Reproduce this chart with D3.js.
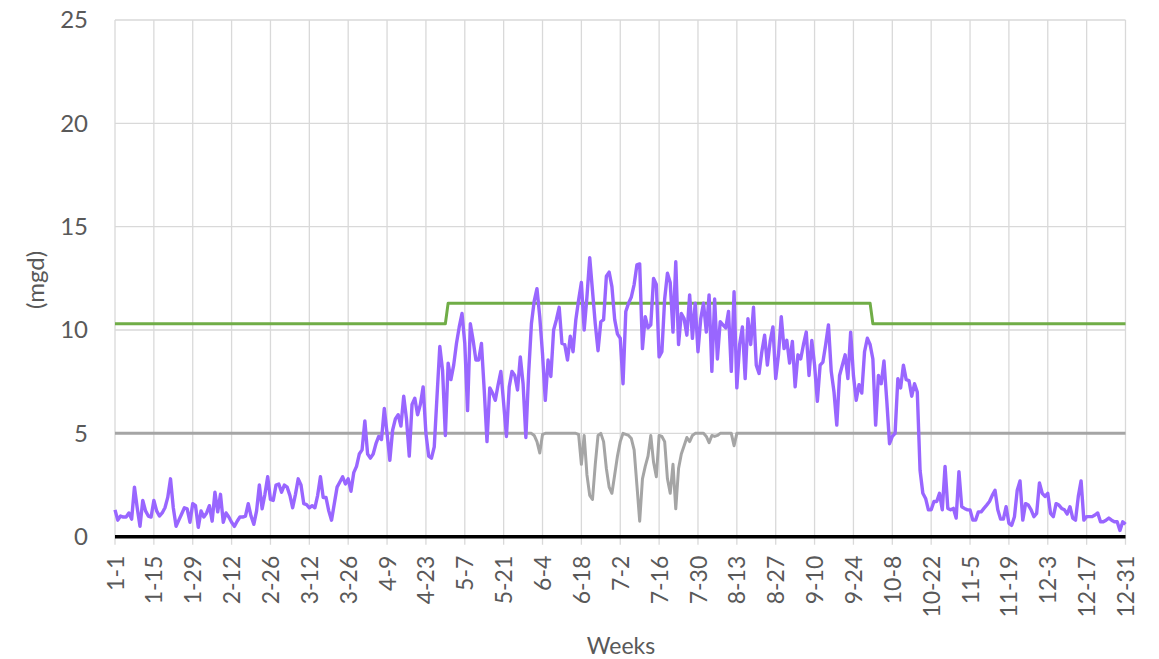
<!DOCTYPE html>
<html lang="en">
<head>
  <meta charset="UTF-8">
  <title>Daily flow (mgd)</title>
  <script src="https://cdn.jsdelivr.net/npm/d3@7"></script>
  <style>
    html, body {
      margin: 0;
      padding: 0;
      background: #fff;
    }
    svg text {
      font-family: Lato, "Open Sans", sans-serif;
      fill: #595959;
    }
  </style>
</head>
<body>
  <svg id="chart" width="1159" height="659"></svg>
  <script>
    // tick labels, one every 14 days starting Jan 1
    const tickLabels = ['1-1', '1-15', '1-29', '2-12', '2-26', '3-12', '3-26', '4-9', '4-23',
      '5-7', '5-21', '6-4', '6-18', '7-2', '7-16', '7-30', '8-13', '8-27', '9-10', '9-24',
      '10-8', '10-22', '11-5', '11-19', '12-3', '12-17', '12-31'];

    // daily flow, day 0 = Jan 1 ... day 364 = Dec 31
    const dailyFlow = [
      1.3, 0.8, 1.0, 0.95, 0.95, 1.15, 0.85, 2.4, 1.4, 0.5,
      1.75, 1.25, 1.0, 0.95, 1.75, 1.25, 1.0, 1.15, 1.4, 1.9,
      2.8, 1.4, 0.5, 0.8, 1.1, 1.4, 1.35, 0.7, 1.6, 1.5,
      0.45, 1.25, 0.95, 1.15, 1.5, 0.75, 2.15, 1.2, 2.05, 0.7,
      1.15, 0.95, 0.7, 0.5, 0.75, 0.95, 0.95, 1.0, 1.6, 1.0,
      0.6, 1.25, 2.5, 1.35, 2.05, 2.9, 1.8, 1.75, 2.5, 2.55,
      2.15, 2.5, 2.4, 2.0, 1.4, 2.05, 2.8, 2.5, 1.6, 1.55,
      1.4, 1.5, 1.4, 2.0, 2.9, 1.9, 1.9, 1.25, 0.8, 1.6,
      2.4, 2.65, 2.9, 2.55, 2.8, 2.2, 3.1, 3.4, 4.0, 4.2,
      5.6, 4.0, 3.8, 4.0, 4.5, 4.85, 4.7, 6.2, 5.0, 3.7,
      5.15, 5.7, 5.9, 5.35, 6.8, 5.7, 3.9, 6.4, 6.7, 5.9,
      6.4, 7.25, 5.0, 3.9, 3.8, 4.35, 6.8, 9.2, 8.05, 4.9,
      8.4, 7.6, 8.3, 9.35, 10.15, 10.8, 9.35, 6.1, 10.3, 9.5,
      8.55, 8.55, 9.35, 7.1, 4.6, 7.2, 6.95, 6.6, 7.35, 8.0,
      6.45, 4.85, 7.25, 8.0, 7.8, 7.1, 8.7, 7.4, 4.8, 7.9,
      10.3, 11.4, 12.0, 10.65, 8.85, 6.6, 8.55, 7.75, 10.0, 10.5,
      11.1, 9.35, 9.3, 8.55, 9.7, 8.95, 10.5, 11.45, 12.3, 10.0,
      11.6, 13.5, 11.9, 10.3, 9.0, 10.4, 10.5, 12.6, 12.8, 12.1,
      10.5, 9.8, 9.6, 7.4, 10.9, 11.3, 11.6, 12.2, 13.15, 13.2,
      9.1, 10.65, 10.1, 10.25, 12.5, 12.2, 8.7, 8.95, 11.5, 12.75,
      12.3, 9.9, 13.3, 9.3, 10.8, 10.55, 9.75, 11.7, 9.6, 11.3,
      8.95, 10.55, 11.3, 9.9, 11.7, 8.0, 11.5, 8.6, 10.4, 10.25,
      10.1, 10.9, 8.0, 11.85, 7.2, 9.3, 10.15, 7.65, 10.55, 9.3,
      11.1, 8.3, 7.9, 8.95, 9.75, 8.3, 9.45, 10.15, 7.65, 8.8,
      10.65, 9.1, 9.5, 8.4, 9.45, 7.25, 8.8, 8.6, 9.3, 9.9,
      7.8, 9.5, 8.3, 6.55, 8.3, 8.45, 9.3, 10.25, 8.0, 7.0,
      5.4, 7.8, 8.3, 8.8, 7.65, 9.9, 7.8, 6.6, 7.35, 6.95,
      8.95, 9.6, 9.3, 8.6, 5.4, 7.8, 7.4, 8.5, 6.6, 4.5,
      4.85, 5.0, 7.65, 7.2, 8.3, 7.6, 7.55, 6.8, 7.4, 7.0,
      3.2, 2.1, 1.85, 1.3, 1.3, 1.7, 1.7, 2.1, 1.3, 3.4,
      1.37, 1.3, 1.37, 0.9, 3.15, 1.45, 1.37, 1.3, 1.3, 0.8,
      0.8, 1.2, 1.2, 1.37, 1.53, 1.7, 2.0, 2.25, 1.3, 0.85,
      0.85, 1.45, 0.65, 0.55, 0.97, 2.25, 2.7, 0.8, 1.6, 1.53,
      1.3, 0.97, 1.13, 2.6, 2.1, 1.95, 2.1, 1.13, 0.97, 1.6,
      1.53, 1.37, 1.3, 1.1, 1.45, 0.9, 0.8, 1.95, 2.7, 0.8,
      0.97, 0.97, 0.97, 1.05, 1.15, 0.72, 0.72, 0.8, 0.9, 0.8,
      0.72, 0.72, 0.3, 0.72, 0.6
    ];

    // green limit line: [day, mgd] break points
    const limitPoints = [[0, 10.3], [119, 10.3], [120, 11.3], [272, 11.3], [273, 10.3], [364, 10.3]];

    // gray line: [day, mgd] points, 5 mgd except for the summer dips
    const grayPoints = [
      [0, 5], [150, 5], [151, 4.9], [152, 4.6], [153, 4.05], [154, 4.95], [155, 5],
      [166, 5], [167, 4.95], [168, 3.5], [169, 4.9], [170, 3.0], [171, 2.0], [172, 1.8],
      [173, 3.5], [174, 4.9], [175, 5.0], [176, 4.6], [177, 3.3], [178, 2.4], [179, 2.1],
      [180, 3.0], [181, 3.9], [182, 4.6], [183, 5.0], [184, 4.95], [185, 4.9], [186, 4.75],
      [187, 4.2], [188, 2.5], [189, 0.75], [190, 2.8], [191, 3.4], [192, 3.9], [193, 4.9],
      [194, 3.6], [195, 2.9], [196, 4.9], [197, 4.85], [198, 4.6], [199, 2.8], [200, 2.1],
      [201, 3.5], [202, 1.35], [203, 3.3], [204, 4.0], [205, 4.4], [206, 4.8], [207, 4.6],
      [208, 4.9], [209, 5], [212, 5], [213, 4.85], [214, 4.55], [215, 4.9], [216, 4.85],
      [217, 4.9], [218, 5], [222, 5], [223, 4.4], [224, 5], [364, 5]
    ];

    const zeroPoints = [[0, 0], [364, 0]];
    const yTicks = [0, 5, 10, 15, 20, 25];

    const svg = d3.select('#chart');
    const plotLeft = 115, plotRight = 1125.5, plotTop = 20, plotBottom = 536.7;

    const x = d3.scaleLinear().domain([0, 364]).range([plotLeft, plotRight]);
    const y = d3.scaleLinear().domain([0, 25]).range([plotBottom, plotTop]);
    const tickDays = tickLabels.map((d, i) => i * 14);

    // grid
    const grid = svg.append('g');
    grid.selectAll('line.h')
      .data(yTicks)
      .enter()
      .append('line')
      .attr('x1', plotLeft).attr('x2', plotRight)
      .attr('y1', d => y(d)).attr('y2', d => y(d))
      .attr('stroke', '#d9d9d9')
      .attr('stroke-width', 1.3);
    grid.selectAll('line.v')
      .data(tickDays)
      .enter()
      .append('line')
      .attr('x1', d => x(d)).attr('x2', d => x(d))
      .attr('y1', plotTop).attr('y2', plotBottom + 8)
      .attr('stroke', '#d9d9d9')
      .attr('stroke-width', 1.3);

    // y axis labels
    const yAxis = svg.append('g')
      .attr('transform', `translate(${plotLeft - 27},0)`)
      .call(d3.axisLeft(y).tickValues(yTicks).tickSize(0).tickPadding(0));
    yAxis.select('.domain').remove();
    yAxis.selectAll('text')
      .attr('font-size', 24)
      .attr('fill', '#595959');

    // x axis labels, rotated
    const xAxis = svg.append('g')
      .attr('transform', `translate(0,${plotBottom + 19})`)
      .call(d3.axisBottom(x).tickValues(tickDays).tickFormat((d, i) => tickLabels[i]).tickSize(0).tickPadding(0));
    xAxis.select('.domain').remove();
    xAxis.selectAll('text')
      .attr('font-size', 23)
      .attr('fill', '#595959')
      .attr('text-anchor', 'end')
      .attr('dy', '0.35em')
      .attr('transform', 'rotate(-90)')
      .attr('x', 0).attr('y', 0);

    // axis titles
    svg.append('text')
      .attr('transform', 'translate(44,280) rotate(-90)')
      .attr('text-anchor', 'middle')
      .attr('font-size', 24)
      .text('(mgd)');
    svg.append('text')
      .attr('x', 621).attr('y', 654)
      .attr('text-anchor', 'middle')
      .attr('font-size', 23)
      .text('Weeks');

    const line = d3.line().x(d => x(d[0])).y(d => y(d[1]));

    svg.append('path')
      .datum(limitPoints)
      .attr('d', line)
      .attr('fill', 'none')
      .attr('stroke', '#70ad47')
      .attr('stroke-width', 3)
      .attr('stroke-linejoin', 'round');

    svg.append('path')
      .datum(grayPoints)
      .attr('d', line)
      .attr('fill', 'none')
      .attr('stroke', '#a5a5a5')
      .attr('stroke-width', 3)
      .attr('stroke-linejoin', 'round');

    svg.append('path')
      .datum(zeroPoints)
      .attr('d', line)
      .attr('fill', 'none')
      .attr('stroke', '#000')
      .attr('stroke-width', 3.5);

    svg.append('path')
      .datum(dailyFlow.map((v, i) => [i, v]))
      .attr('d', line)
      .attr('fill', 'none')
      .attr('stroke', '#9966ff')
      .attr('stroke-width', 3.4)
      .attr('stroke-linejoin', 'round');
  </script>
</body>
</html>
